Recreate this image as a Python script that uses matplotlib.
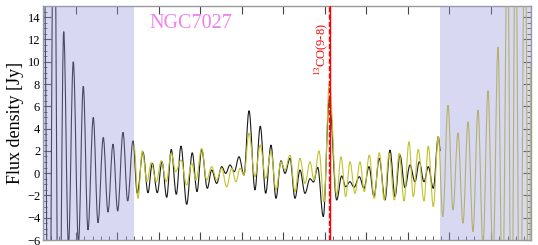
import matplotlib
matplotlib.use("Agg")
import matplotlib.pyplot as plt
from matplotlib.path import Path
from matplotlib.patches import PathPatch
from matplotlib.ticker import MultipleLocator

plt.rcParams['font.family'] = ['Liberation Serif', 'DejaVu Serif']
plt.rcParams['mathtext.fontset'] = 'custom'
plt.rcParams['mathtext.rm'] = 'Liberation Serif'

# spectrum 1 (dark), extrema
x_black = [-7.71, -6.51, -5.30, -4.10, -2.96, -1.81, -0.65, 0.60, 1.76, 2.89,
           4.17, 5.30, 6.58, 7.71, 8.92, 10.05, 11.33, 12.46, 13.73, 14.77,
           16.14, 17.35, 18.39, 19.59, 20.72, 21.86, 22.96, 24.17, 25.30, 26.67,
           28.02, 29.16, 30.29, 31.64, 32.70, 33.90, 35.11, 36.07, 37.11, 38.14,
           39.28, 40.48, 41.69, 43.13, 44.41, 45.71, 46.99, 48.19, 49.40, 50.36,
           51.57, 52.77, 53.98, 55.18, 56.39, 57.23, 58.24, 59.59, 61.04, 62.82,
           64.02, 64.99, 66.02, 66.99, 68.27, 69.40, 70.60, 71.81, 73.08, 74.46,
           75.66, 76.87, 78.07, 79.28, 80.48, 81.69, 82.72, 83.86, 84.89, 86.10,
           87.30, 87.83]
y_black = [20, -25, 30, -22, 12.7, -6.5, 10.0, -6.3, 7.8, -5.1,
           5.0, -4.45, 3.2, -3.5, 2.6, -3.4, 3.66, -2.5, 2.9, -1.8,
           1.9, -1.76, 0.88, -1.76, 1.02, -2.17, 2.13, -1.9, 2.43, -2.8,
           1.83, -1.66, 2.13, -1.36, 0.28, -0.92, 0.58, -0.02, 0.73, 0.13,
           1.47, -0.17, 5.6, -1.5, 4.22, -1.81, 2.52, -2.26, 1.11, -0.02,
           1.33, -2.26, 0.28, -1.81, -0.5, -0.8, 0.52, -3.9, 6.7, -2.41,
           -0.26, -1.22, -0.77, -1.27, -0.32, -1.36, 0.58, -2.1, 1.33, -2.41,
           2.07, -2.1, 1.62, -1.3, 0.73, -0.77, 1.02, -0.77, 0.58, -1.36,
           3.27, 2.0]

# spectrum 2 (yellow)
x_yellow = [13.98, 14.94, 15.98, 17.11, 18.14, 19.35, 20.55, 21.76, 22.96, 24.02,
            25.30, 26.67, 27.88, 28.92, 30.29, 31.49, 32.70, 33.90, 35.11, 36.31,
            37.52, 38.55, 39.52, 40.48, 41.69, 43.13, 44.41, 45.71, 46.99, 48.19,
            49.40, 50.36, 51.57, 52.77, 53.98, 55.18, 56.39, 57.35, 58.55, 59.76,
            61.04, 62.82, 63.86, 64.99, 66.02, 67.23, 68.43, 69.47, 70.67, 71.88,
            73.08, 74.29, 75.49, 76.70, 77.90, 79.04, 80.24, 81.28, 82.48, 83.86,
            84.89, 86.10, 87.30, 88.39, 89.64, 90.84, 92.05, 93.25, 94.46, 95.66,
            96.87, 98.07, 99.28, 100.48, 101.69, 102.77, 103.98, 104.94, 105.90, 106.99,
            108.19, 109.16, 109.64]
y_yellow = [2.5, -2.26, 2.0, -0.77, 0.93, -0.77, 1.11, -0.77, 1.78, 0.13,
            1.17, -1.07, 0.88, -0.62, 2.22, -0.62, 0.58, -0.62, 0.43, -1.22,
            0.43, -0.77, 0.43, -0.17, 3.58, -0.32, 2.52, -0.47, 1.92, -1.5,
            1.02, 0.28, 1.62, -1.66, 1.33, -0.92, 1.02, -0.62, 2.0, -2.56,
            8.05, -1.96, 1.47, -2.1, 1.02, -1.81, 1.02, -1.66, 1.62, -2.26,
            1.83, -2.41, 1.78, -2.41, 1.78, -2.5, 2.82, -2.1, 2.13, -2.5,
            2.43, -3.0, 3.3, -3.9, 6.1, -3.3, 3.62, -4.5, 4.61, -5.25,
            5.66, -6.5, 7.4, -8, 11.3, -12, 22, -18, 24, -20,
            26, -22, 10]

x_range = (-7.95, 109.64)
bad_left = (-7.95, 13.9)
bad_right = (87.71, 109.64)
line_pos = 61.2
line_label = r'$^{13}$CO(9-8)'
source = 'NGC7027'


def smooth_line(ax, xs, ys, **kw):
    # bezier through the extrema, flat at each turning point
    verts = [(xs[0], ys[0])]
    codes = [Path.MOVETO]
    for i in range(1, len(xs)):
        d = (xs[i] - xs[i - 1]) * 0.36
        verts += [(xs[i - 1] + d, ys[i - 1]), (xs[i] - d, ys[i]), (xs[i], ys[i])]
        codes += [Path.CURVE4] * 3
    ax.add_patch(PathPatch(Path(verts, codes), fill=False, **kw))


fig = plt.figure(figsize=(5.38, 2.45), dpi=100)
ax = fig.add_axes([0.0799, 0.0204, 0.9071, 0.9551])

smooth_line(ax, x_black, y_black, edgecolor='#1a1a1a', lw=0.8, zorder=2)
smooth_line(ax, x_yellow, y_yellow, edgecolor='#c2c22e', lw=0.8, zorder=3)

ax.axvspan(*bad_left, facecolor='#9999dd', alpha=0.38, lw=0, zorder=4)
ax.axvspan(*bad_right, facecolor='#9999dd', alpha=0.38, lw=0, zorder=4)

ax.axvline(line_pos, color='red', lw=1.0, zorder=5)
ax.axvline(line_pos - 0.2, color='red', lw=1.0, ls='--', zorder=5)
ax.text(line_pos - 2.0, 13.5, line_label, color='red', rotation=90,
        ha='center', va='top', fontsize=9)
ax.text(17.8, 13.4, source, color='violet', fontsize=14.5, ha='left', va='center')

ax.set_xlim(*x_range)
ax.set_ylim(-6, 15)
ax.set_ylabel('Flux density [Jy]', fontsize=13, labelpad=2)

ax.xaxis.set_major_locator(MultipleLocator(10))
ax.xaxis.set_minor_locator(MultipleLocator(2))
ax.yaxis.set_major_locator(MultipleLocator(2))
ax.yaxis.set_minor_locator(MultipleLocator(0.5))
ax.tick_params(axis='both', which='both', direction='in', colors='#444444',
               labelcolor='black')
ax.tick_params(axis='x', which='both', top=True, labelbottom=False)
ax.tick_params(axis='x', which='minor', top=False)
ax.tick_params(axis='y', which='both', right=True, labelsize=9, pad=2)
ax.tick_params(which='major', length=6, width=0.8)
ax.tick_params(which='minor', length=3, width=0.6)
for s in ax.spines.values():
    s.set_color('#999999')
    s.set_linewidth(1.0)

fig.savefig('out.png', dpi=100)
